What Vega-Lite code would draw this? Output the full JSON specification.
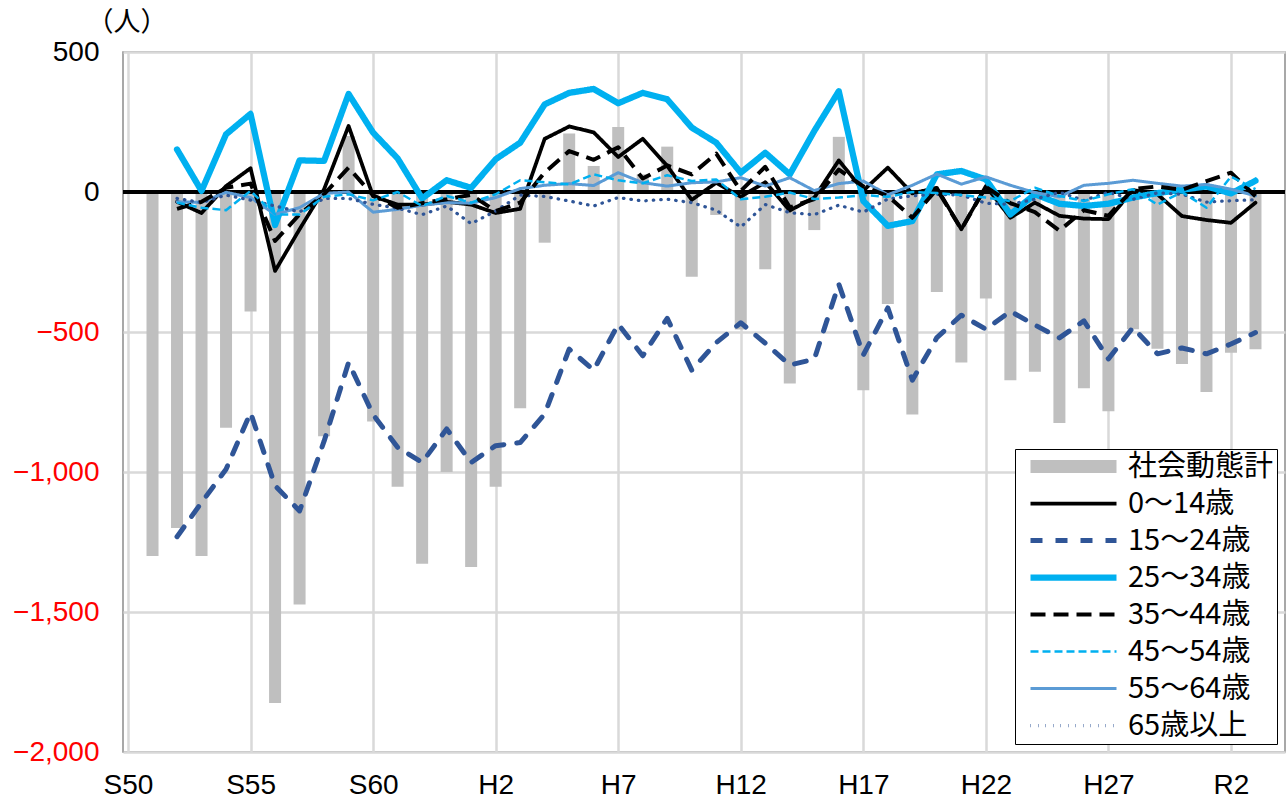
{
  "$schema": "https://vega.github.io/schema/vega-lite/v6.json",
  "width": 1162,
  "height": 700,
  "autosize": {"type": "none"},
  "padding": {"left": 123, "top": 52, "right": 3, "bottom": 48},
  "background": "white",
  "config": {
    "view": {"stroke": "#8C8C8C", "strokeWidth": 1.5},
    "font": "Noto Sans CJK JP",
    "axis": {"labelFont": "Liberation Sans", "labelFontSize": 28, "labelColor": "#000000", "gridColor": "#D9D9D9", "gridWidth": 2.5, "domain": false, "ticks": false},
    "legend": {"orient": "bottom-right", "offset": 8, "symbolType": "stroke", "symbolSize": 7396, "symbolOffset": 6, "clipHeight": 29, "columns": 1, "rowPadding": 7, "padding": 3, "labelFontSize": 29, "labelFont": "Noto Sans CJK JP", "labelColor": "#000000", "strokeColor": "#000000", "fillColor": "#FFFFFF", "labelOffset": 5, "labelLimit": 400}
  },
  "data": {"values": [
    {"year": 1976, "社会動態計": -1300},
    {"year": 1977, "社会動態計": -1200, "0～14歳": -35, "15～24歳": -1231, "25～34歳": 152, "35～44歳": -60, "45～54歳": -38, "55～64歳": -35, "65歳以上": -23},
    {"year": 1978, "社会動態計": -1300, "0～14歳": -75, "15～24歳": -1109, "25～34歳": 4, "35～44歳": -35, "45～54歳": -56, "55～64歳": -37, "65歳以上": -38},
    {"year": 1979, "社会動態計": -842, "0～14歳": 21, "15～24歳": -990, "25～34歳": 206, "35～44歳": 15, "45～54歳": -65, "55～64歳": -1, "65歳以上": -11},
    {"year": 1980, "社会動態計": -427, "0～14歳": 85, "15～24歳": -788, "25～34歳": 279, "35～44歳": 30, "45～54歳": 4, "55～64歳": -20, "65歳以上": -29},
    {"year": 1981, "社会動態計": -1825, "0～14歳": -282, "15～24歳": -1049, "25～34歳": -118, "35～44歳": -175, "45～54歳": -80, "55～64歳": -80, "65歳以上": -50},
    {"year": 1982, "社会動態計": -1473, "0～14歳": -133, "15～24歳": -1139, "25～34歳": 113, "35～44歳": -80, "45～54歳": -80, "55～64歳": -56, "65歳以上": -71},
    {"year": 1983, "社会動態計": -872, "0～14歳": 10, "15～24歳": -890, "25～34歳": 111, "35～44歳": -8, "45～54歳": -17, "55～64歳": -5, "65歳以上": -23},
    {"year": 1984, "社会動態計": 200, "0～14歳": 236, "15～24歳": -609, "25～34歳": 350, "35～44歳": 87, "45～54歳": -8, "55～64歳": 0, "65歳以上": -23},
    {"year": 1985, "社会動態計": -820, "0～14歳": -15, "15～24歳": -795, "25～34歳": 212, "35～44歳": -12, "45～54歳": -30, "55～64歳": -72, "65歳以上": -44},
    {"year": 1986, "社会動態計": -1053, "0～14歳": -45, "15～24歳": -912, "25～34歳": 120, "35～44歳": -56, "45～54歳": 0, "55～64歳": -62, "65歳以上": -58},
    {"year": 1987, "社会動態計": -1328, "0～14歳": -45, "15～24歳": -966, "25～34歳": -23, "35～44歳": -40, "45～54歳": -50, "55～64歳": -47, "65歳以上": -81},
    {"year": 1988, "社会動態計": -1000, "0～14歳": -35, "15～24歳": -846, "25～34歳": 42, "35～44歳": -26, "45～54歳": -14, "55～64歳": -38, "65歳以上": -50},
    {"year": 1989, "社会動態計": -1339, "0～14歳": -45, "15～24歳": -966, "25～34歳": 15, "35～44歳": -10, "45～54歳": -38, "55～64歳": -40, "65歳以上": -113},
    {"year": 1990, "社会動態計": -1053, "0～14歳": -75, "15～24歳": -906, "25～34歳": 117, "35～44歳": -68, "45～54歳": -8, "55～64歳": -20, "65歳以上": -68},
    {"year": 1991, "社会動態計": -772, "0～14歳": -60, "15～24歳": -895, "25～34歳": 176, "35～44歳": -38, "45～54歳": 42, "55～64歳": 12, "65歳以上": -11},
    {"year": 1992, "社会動態計": -181, "0～14歳": 190, "15～24歳": -793, "25～34歳": 313, "35～44歳": 70, "45～54歳": 35, "55～64歳": 24, "65歳以上": -16},
    {"year": 1993, "社会動態計": 209, "0～14歳": 234, "15～24歳": -561, "25～34歳": 354, "35～44歳": 146, "45～54歳": 27, "55～64歳": 30, "65歳以上": -32},
    {"year": 1994, "社会動態計": 93, "0～14歳": 213, "15～24歳": -636, "25～34歳": 368, "35～44歳": 115, "45～54歳": 63, "55～64歳": 23, "65歳以上": -50},
    {"year": 1995, "社会動態計": 232, "0～14歳": 125, "15～24歳": -472, "25～34歳": 317, "35～44歳": 160, "45～54歳": 42, "55～64歳": 69, "65歳以上": -20},
    {"year": 1996, "社会動態計": 63, "0～14歳": 190, "15～24歳": -585, "25～34歳": 354, "35～44歳": 48, "45～54歳": 31, "55～64歳": 33, "65歳以上": -32},
    {"year": 1997, "社会動態計": 162, "0～14歳": 93, "15～24歳": -451, "25～34歳": 331, "35～44歳": 95, "45～54歳": 60, "55～64歳": 21, "65歳以上": -26},
    {"year": 1998, "社会動態計": -303, "0～14歳": -28, "15～24歳": -636, "25～34歳": 230, "35～44歳": 63, "45～54歳": 39, "55～64歳": 33, "65歳以上": -38},
    {"year": 1999, "社会動態計": -82, "0～14歳": 33, "15～24歳": -538, "25～34歳": 176, "35～44歳": 137, "45～54歳": 45, "55～64歳": 36, "65歳以上": -65},
    {"year": 2000, "社会動態計": -491, "0～14歳": -17, "15～24歳": -467, "25～34歳": 69, "35～44歳": 4, "45～54歳": -26, "55～64歳": 51, "65歳以上": -125},
    {"year": 2001, "社会動態計": -276, "0～14歳": 35, "15～24歳": -540, "25～34歳": 140, "35～44歳": 90, "45～54歳": -17, "55～64歳": 21, "65歳以上": -45},
    {"year": 2002, "社会動態計": -684, "0～14歳": -66, "15～24歳": -618, "25～34歳": 63, "35～44歳": -55, "45～54歳": -2, "55～64歳": 51, "65歳以上": -74},
    {"year": 2003, "社会動態計": -136, "0～14歳": -20, "15～24歳": -597, "25～34歳": 218, "35～44歳": -25, "45～54歳": -25, "55～64歳": 5, "65歳以上": -81},
    {"year": 2004, "社会動態計": 197, "0～14歳": 113, "15～24歳": -329, "25～34歳": 360, "35～44歳": 80, "45～54歳": -20, "55～64歳": 30, "65歳以上": -47},
    {"year": 2005, "社会動態計": -708, "0～14歳": 5, "15～24歳": -582, "25～34歳": -32, "35～44歳": 20, "45～54歳": -11, "55～64歳": 39, "65歳以上": -72},
    {"year": 2006, "社会動態計": -400, "0～14歳": 87, "15～24歳": -414, "25～34歳": -121, "35～44歳": -14, "45～54歳": -17, "55～64歳": -10, "65歳以上": -25},
    {"year": 2007, "社会動態計": -795, "0～14歳": -5, "15～24歳": -672, "25～34歳": -104, "35～44歳": -92, "45～54歳": 0, "55～64歳": 24, "65歳以上": -14},
    {"year": 2008, "社会動態計": -357, "0～14歳": 15, "15～24歳": -520, "25～34歳": 63, "35～44歳": 10, "45～54歳": -4, "55～64歳": 64, "65歳以上": -8},
    {"year": 2009, "社会動態計": -609, "0～14歳": -133, "15～24歳": -440, "25～34歳": 75, "35～44歳": -133, "45～54歳": -11, "55～64歳": 28, "65歳以上": -11},
    {"year": 2010, "社会動態計": -380, "0～14歳": 21, "15～24歳": -490, "25～34歳": 45, "35～44歳": 18, "45～54歳": -20, "55～64歳": 54, "65歳以上": -40},
    {"year": 2011, "社会動態計": -672, "0～14歳": -92, "15～24歳": -426, "25～34歳": -80, "35～44歳": -40, "45～54歳": -32, "55～64歳": 24, "65歳以上": -44},
    {"year": 2012, "社会動態計": -642, "0～14歳": -38, "15～24歳": -475, "25～34歳": -8, "35～44歳": -72, "45～54歳": 15, "55～64歳": -2, "65歳以上": -26},
    {"year": 2013, "社会動態計": -825, "0～14歳": -85, "15～24歳": -521, "25～34歳": -42, "35～44歳": -138, "45～54歳": -14, "55～64歳": -17, "65歳以上": -1},
    {"year": 2014, "社会動態計": -701, "0～14歳": -95, "15～24歳": -460, "25～34歳": -50, "35～44歳": -65, "45～54歳": -32, "55～64歳": 24, "65歳以上": -30},
    {"year": 2015, "社会動態計": -783, "0～14歳": -97, "15～24歳": -596, "25～34歳": -42, "35～44歳": -85, "45～54歳": -8, "55～64歳": 31, "65歳以上": -1},
    {"year": 2016, "社会動態計": -490, "0～14歳": 7, "15～24歳": -484, "25～34歳": -20, "35～44歳": 10, "45～54歳": 10, "55～64歳": 42, "65歳以上": -26},
    {"year": 2017, "社会動態計": -560, "0～14歳": -8, "15～24歳": -578, "25～34歳": -4, "35～44歳": 20, "45～54歳": -45, "55～64歳": 31, "65歳以上": -3},
    {"year": 2018, "社会動態計": -614, "0～14歳": -86, "15～24歳": -557, "25～34歳": 8, "35～44歳": 8, "45～54歳": 0, "55～64歳": 21, "65歳以上": -8},
    {"year": 2019, "社会動態計": -714, "0～14歳": -100, "15～24歳": -578, "25～34歳": 20, "35～44歳": 39, "45～54歳": -56, "55～64歳": 27, "65歳以上": -36},
    {"year": 2020, "社会動態計": -574, "0～14歳": -110, "15～24歳": -543, "25～34歳": -5, "35～44歳": 69, "45～54歳": 55, "55～64歳": 10, "65歳以上": -31},
    {"year": 2021, "社会動態計": -562, "0～14歳": -38, "15～24歳": -502, "25～34歳": 40, "35～44歳": -15, "45～54歳": 10, "55～64歳": -14, "65歳以上": -28}
  ]},
  "transform": [
    {"fold": ["社会動態計", "0～14歳", "15～24歳", "25～34歳", "35～44歳", "45～54歳", "55～64歳", "65歳以上"], "as": ["series", "value"]},
    {"filter": "isValid(datum.value)"}
  ],
  "encoding": {
    "x": {"field": "year", "type": "quantitative", "scale": {"domain": [1975, 2022], "nice": false, "zero": false},
      "axis": {"values": [1975, 1980, 1985, 1990, 1995, 2000, 2005, 2010, 2015, 2020], "labelExpr": "datum.value < 1989 ? 'S' + (datum.value - 1925) : (datum.value < 2019 ? 'H' + (datum.value - 1988) : 'R' + (datum.value - 2018))", "labelPadding": 19, "labelOverlap": false, "labelFlush": false, "grid": true, "title": null}},
    "y": {"field": "value", "type": "quantitative", "scale": {"domain": [-2000, 500], "nice": false, "zero": false},
      "axis": {"values": [-2000, -1500, -1000, -500, 0, 500], "format": ",.0f", "labelPadding": 24, "grid": true,
        "labelColor": {"condition": {"test": "datum.value < 0", "value": "#FF0000"}, "value": "#000000"},
        "title": "（人）", "titleAngle": 0, "titleX": -37, "titleY": -43, "titleAlign": "left", "titleBaseline": "top", "titleFontSize": 27, "titleFontWeight": "normal", "titleFont": "Noto Sans CJK JP"}}
  },
  "layer": [
    {
      "transform": [{"filter": "datum.series === '社会動態計'"}],
      "mark": {"type": "bar", "size": 12},
      "encoding": {
        "color": {"field": "series", "type": "nominal",
          "scale": {"domain": ["社会動態計", "0～14歳", "15～24歳", "25～34歳", "35～44歳", "45～54歳", "55～64歳", "65歳以上"], "range": ["#BFBFBF", "#000000", "#2F5597", "#00B0F0", "#000000", "#00B0F0", "#5B9BD5", "#2F5597"]},
          "legend": {"title": null, "labelExpr": "datum.label + '\u2002\u2002\u2002'"}}
      }
    },
    {
      "mark": {"type": "rule", "color": "#000000", "strokeWidth": 2.5},
      "encoding": {"y": {"datum": 0}, "x": {"value": 0}, "x2": {"value": 1162}}
    },
    {
      "transform": [{"filter": "indexof(['0～14歳','15～24歳','25～34歳','55～64歳','65歳以上'], datum.series) >= 0"}],
      "mark": {"type": "line", "strokeCap": "round", "strokeJoin": "round"},
      "encoding": {
        "color": {"field": "series", "type": "nominal", "legend": {"title": null, "labelExpr": "datum.label + '\u2002\u2002\u2002'"}},
        "strokeDash": {"field": "series", "type": "nominal",
          "scale": {"domain": ["社会動態計", "0～14歳", "15～24歳", "25～34歳", "35～44歳", "45～54歳", "55～64歳", "65歳以上"], "range": [[1, 0], [1, 0], [12, 13], [1, 0], [15, 8], [8, 4], [1, 0], [0.5, 7]]},
          "legend": {"title": null, "labelExpr": "datum.label + '\u2002\u2002\u2002'"}},
        "strokeWidth": {"field": "series", "type": "nominal",
          "scale": {"type": "ordinal", "domain": ["社会動態計", "0～14歳", "15～24歳", "25～34歳", "35～44歳", "45～54歳", "55～64歳", "65歳以上"], "range": [13, 3.75, 5, 6.25, 4, 2.5, 3, 3.25]},
          "legend": {"title": null, "labelExpr": "datum.label + '\u2002\u2002\u2002'"}}
      }
    },
    {
      "transform": [{"filter": "indexof(['35～44歳','45～54歳'], datum.series) >= 0"}],
      "mark": {"type": "line", "strokeCap": "butt", "strokeJoin": "round"},
      "encoding": {
        "color": {"field": "series", "type": "nominal", "legend": {"title": null, "labelExpr": "datum.label + '\u2002\u2002\u2002'"}},
        "strokeDash": {"field": "series", "type": "nominal", "legend": {"title": null, "labelExpr": "datum.label + '\u2002\u2002\u2002'"}},
        "strokeWidth": {"field": "series", "type": "nominal", "scale": {"type": "ordinal"}, "legend": {"title": null, "labelExpr": "datum.label + '\u2002\u2002\u2002'"}}
      }
    }
  ]
}
